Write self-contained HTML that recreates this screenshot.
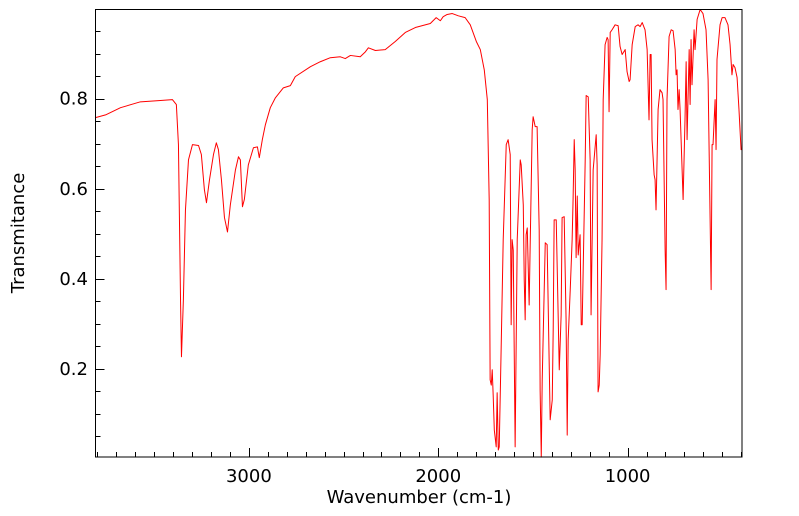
<!DOCTYPE html>
<html><head><meta charset="utf-8"><style>
html,body{margin:0;padding:0;background:#fff;width:799px;height:516px;overflow:hidden}
svg{display:block;font-family:"DejaVu Sans","Liberation Sans",sans-serif}
</style></head><body>
<svg id="chart" width="799" height="516"></svg>
<script>
const wavenumbers=[3810,3757,3678,3573,3467,3404,3383,3372,3361,3356,3346,3335,3319,3298,3266,3251,3235,3224,3208,3187,3172,3161,3145,3129,3113,3098,3071,3055,3045,3034,3024,3003,2976,2955,2945,2929,2913,2887,2860,2818,2781,2755,2675,2623,2570,2517,2491,2464,2412,2385,2369,2332,2280,2227,2174,2121,2042,2011,1989,1974,1953,1926,1894,1858,1831,1799,1778,1757,1741,1731,1726,1720,1715,1710,1704,1694,1689,1683,1678,1668,1657,1641,1631,1620,1615,1610,1604,1594,1583,1567,1562,1551,1546,1541,1536,1530,1520,1515,1504,1499,1488,1478,1467,1462,1456,1451,1435,1425,1409,1398,1393,1388,1377,1361,1351,1346,1335,1325,1319,1314,1303,1293,1288,1282,1277,1272,1266,1261,1251,1245,1240,1224,1219,1208,1198,1193,1182,1166,1161,1156,1150,1145,1135,1129,1119,1108,1103,1098,1092,1082,1066,1050,1040,1029,1013,1003,992,987,976,960,945,934,923,908,897,887,881,876,871,860,855,850,839,829,818,813,802,797,792,781,770,760,749,744,739,734,728,723,707,697,691,686,675,670,665,660,649,644,633,617,602,586,575,559,554,549,538,533,528,512,501,486,470,459,449,443,433,422,412,401,396];
const transmittance=[0.758,0.764,0.780,0.793,0.796,0.798,0.787,0.698,0.353,0.227,0.353,0.553,0.664,0.698,0.696,0.676,0.598,0.569,0.620,0.676,0.702,0.687,0.620,0.536,0.504,0.564,0.642,0.671,0.664,0.560,0.576,0.653,0.691,0.693,0.669,0.709,0.742,0.780,0.802,0.824,0.829,0.849,0.871,0.882,0.891,0.893,0.889,0.896,0.893,0.904,0.913,0.907,0.909,0.927,0.947,0.958,0.967,0.980,0.973,0.982,0.987,0.989,0.984,0.980,0.964,0.927,0.909,0.864,0.798,0.576,0.176,0.164,0.198,0.142,0.064,0.027,0.147,0.020,0.027,0.242,0.487,0.698,0.709,0.676,0.298,0.487,0.464,0.027,0.487,0.664,0.653,0.564,0.398,0.309,0.498,0.513,0.342,0.464,0.731,0.760,0.738,0.738,0.509,0.153,0.004,0.176,0.480,0.476,0.087,0.131,0.287,0.531,0.531,0.198,0.320,0.536,0.538,0.309,0.053,0.264,0.376,0.487,0.576,0.709,0.642,0.447,0.584,0.453,0.498,0.298,0.298,0.664,0.807,0.804,0.664,0.320,0.642,0.720,0.653,0.149,0.164,0.231,0.487,0.798,0.920,0.936,0.931,0.771,0.947,0.953,0.964,0.962,0.916,0.898,0.909,0.860,0.838,0.842,0.920,0.960,0.964,0.960,0.969,0.953,0.909,0.753,0.898,0.898,0.709,0.631,0.620,0.553,0.776,0.820,0.813,0.798,0.464,0.376,0.798,0.938,0.953,0.951,0.909,0.853,0.864,0.776,0.820,0.776,0.576,0.753,0.882,0.709,0.909,0.787,0.931,0.831,0.953,0.909,0.976,0.998,0.989,0.953,0.842,0.376,0.698,0.698,0.798,0.687,0.887,0.964,0.980,0.980,0.964,0.920,0.853,0.876,0.869,0.847,0.776,0.687,0.687];
const xMajorTicks=[3000,2000,1000];
const yMajorTicks=[0.2,0.4,0.6,0.8];
const xDomain=[3810,396];
const yDomain=[0.0044,0.998];

const L=95.5,R=742,T=9.5,B=457;
const NS='http://www.w3.org/2000/svg';
const svg=document.getElementById('chart');
function sx(w){return L+(w-xDomain[0])/(xDomain[1]-xDomain[0])*(R-L);}
function sy(v){return B-(v-yDomain[0])/(yDomain[1]-yDomain[0])*(B-T);}
function mk(tag,attrs){const e=document.createElementNS(NS,tag);for(const k in attrs)e.setAttribute(k,attrs[k]);svg.appendChild(e);return e;}

let d='';
for(let i=0;i<wavenumbers.length;i++){d+=(i?'L':'M')+sx(wavenumbers[i]).toFixed(2)+','+sy(transmittance[i]).toFixed(2);}
const line=mk('path',{d:d,fill:'none',stroke:'#ff0000','stroke-width':1,'stroke-linejoin':'round'});



const frame=mk('rect',{x:L,y:T,width:R-L,height:B-T,fill:'none',stroke:'#000','stroke-width':1});



for(let w=3800;w>=400;w-=100){
  const x=Math.round(sx(w))+0.5;const major=w%1000===0;
  const t=mk('line',{x1:x,x2:x,y1:B,y2:B-(major?9:5),stroke:'#000','stroke-width':1});
  
  
}
xMajorTicks.forEach(w=>{
  const t=mk('text',{x:sx(w),y:482,'text-anchor':'middle','font-size':18,fill:'#000'});
  t.textContent=String(w);
  
  
});
for(let k=1;k<=19;k++){
  const v=k*0.05;const y=Math.round(sy(v))+0.5;const major=k%4===0;
  if(y<T||y>B)continue;
  const t=mk('line',{x1:L,x2:L+(major?9:5),y1:y,y2:y,stroke:'#000','stroke-width':1});
  
  
}
yMajorTicks.forEach(v=>{
  const t=mk('text',{x:88,y:sy(v)+6,'text-anchor':'end','font-size':18,fill:'#000'});
  t.textContent=v.toFixed(1);
  
  
});
const xt=mk('text',{x:419,y:503,'text-anchor':'middle','font-size':18,fill:'#000'});
xt.textContent='Wavenumber (cm-1)';


const yt=mk('text',{x:0,y:0,'text-anchor':'middle','font-size':18,fill:'#000',transform:'translate(24,233) rotate(-90)'});
yt.textContent='Transmitance';


</script>
</body></html>
